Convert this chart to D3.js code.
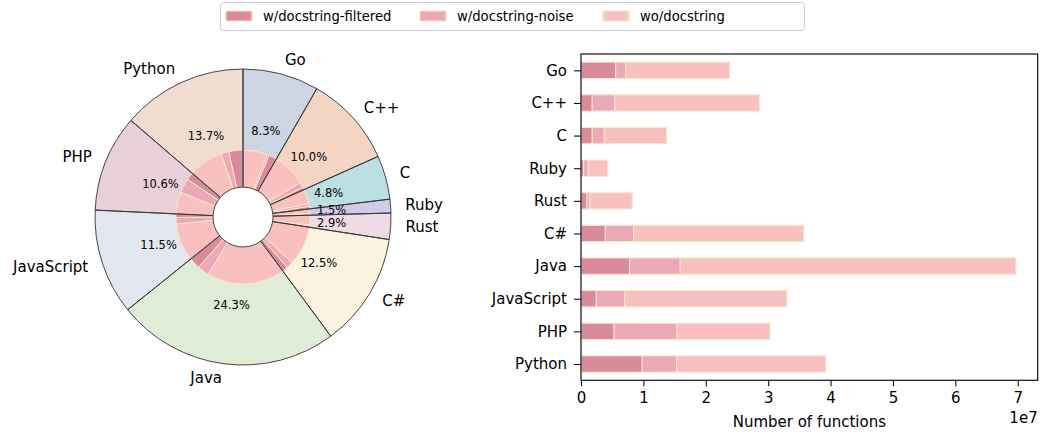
<!DOCTYPE html>
<meta charset="utf-8">
<script src="https://d3js.org/d3.v7.min.js"></script>
<style>
  body { margin: 0; background: #fff; }
  text { font-family: "DejaVu Sans", sans-serif; fill: #000; }
</style>
<body>
<div id="chart"></div>
<script>
// languages, in the order they are plotted (bottom bar first, pie counter-clockwise from top)
var languages = ["Python", "PHP", "JavaScript", "Java", "C#", "Rust", "Ruby", "C", "C++", "Go"];
// counts in millions of functions
var filtered = [9.8, 5.3, 2.45, 7.8, 3.9, 0.96, 0.43, 1.8, 1.8, 5.56];
var noise    = [5.5, 10.1, 4.55, 8.1, 4.55, 0.49, 0.74, 1.93, 3.6, 1.6];
var noDoc    = [23.9, 14.9, 26.0, 53.8, 27.25, 6.75, 3.13, 9.97, 23.2, 16.64];
var seriesNames = ["w/docstring-filtered", "w/docstring-noise", "wo/docstring"];
var xTicks = [0, 1, 2, 3, 4, 5, 6, 7];

var outerColors = ["#f1dcd0", "#e8cfd8", "#e2e6ee", "#dfedd7", "#fbf2e0",
                   "#f0dae3", "#d0cbe6", "#bcdfe3", "#f4d5c4", "#cdd4e2"];
var seriesColors = ["#d98a9b", "#eba9b6", "#f9c0c0"];
var edgeColor = "#fde5cc";

var width = 1041, height = 434;
var svg = d3.select("#chart").append("svg")
  .attr("width", width).attr("height", height);

var totals = languages.map(function (d, i) { return (filtered[i] + noise[i] + noDoc[i]) * 1e6; });
var grand = d3.sum(totals);

// ---------- pie ----------
var cx = 243, cy = 217, R = 148, rInner = 67, rHole = 30;
var pieG = svg.append("g").attr("transform", "translate(" + cx + "," + cy + ")");

var pie = d3.pie().sort(null).value(function (d) { return d; })
  .startAngle(0).endAngle(-2 * Math.PI);

var outerArcs = pie(totals);
var outerArc = d3.arc().innerRadius(rHole).outerRadius(R);

pieG.selectAll("path.outerFill")
  .data(outerArcs).enter().append("path")
  .attr("class", "outerFill")
  .attr("d", outerArc)
  .attr("fill", function (d, i) { return outerColors[i]; });

// inner ring: three parts per language
var innerVals = [];
var innerCols = [];
languages.forEach(function (l, i) {
  [filtered[i], noise[i], noDoc[i]].forEach(function (v, j) {
    innerVals.push(v * 1e6);
    innerCols.push(seriesColors[j]);
  });
});
var innerArc = d3.arc().innerRadius(rHole).outerRadius(rInner);
pieG.selectAll("path.inner")
  .data(pie(innerVals)).enter().append("path")
  .attr("class", "inner")
  .attr("d", innerArc)
  .attr("fill", function (d, i) { return innerCols[i]; })
  .attr("stroke", edgeColor)
  .attr("stroke-width", 1);

// wedge outlines on top
pieG.selectAll("path.outerEdge")
  .data(outerArcs).enter().append("path")
  .attr("class", "outerEdge")
  .attr("d", outerArc)
  .attr("fill", "none")
  .attr("stroke", "#333")
  .attr("stroke-width", 0.9);

function mid(d) { return (d.startAngle + d.endAngle) / 2; }

pieG.selectAll("text.pct")
  .data(outerArcs).enter().append("text")
  .attr("class", "pct")
  .attr("x", function (d) { return Math.sin(mid(d)) * R * 0.6; })
  .attr("y", function (d) { return -Math.cos(mid(d)) * R * 0.6; })
  .attr("text-anchor", "middle")
  .attr("dominant-baseline", "central")
  .style("font-size", "11.5px")
  .text(function (d) { return (d.value / grand * 100).toFixed(1) + "%"; });

pieG.selectAll("text.lab")
  .data(outerArcs).enter().append("text")
  .attr("class", "lab")
  .attr("x", function (d) { return Math.sin(mid(d)) * R * 1.1; })
  .attr("y", function (d) { return -Math.cos(mid(d)) * R * 1.1; })
  .attr("text-anchor", function (d) { return Math.sin(mid(d)) < 0 ? "end" : "start"; })
  .attr("dominant-baseline", "central")
  .style("font-size", "15px")
  .text(function (d, i) { return languages[i]; });

// ---------- stacked bars ----------
var plotLeft = 581, plotRight = 1037.7, plotTop = 54, plotBottom = 380.3;
var x = d3.scaleLinear().domain([0, 7.32e7]).range([plotLeft, plotRight]);
var y = d3.scaleLinear().domain([-0.5, 9.5]).range([plotBottom, plotTop]);
var barH = (y(0) - y(0.5));

var rows = languages.map(function (l, i) {
  return { lang: l, idx: i, f: filtered[i] * 1e6, n: noise[i] * 1e6, w: noDoc[i] * 1e6 };
});
var stacked = d3.stack().keys(["f", "n", "w"])(rows);

var barG = svg.append("g");
barG.selectAll("g")
  .data(stacked).enter().append("g")
  .attr("fill", function (d, i) { return seriesColors[i]; })
  .selectAll("rect")
  .data(function (d) { return d; })
  .enter().append("rect")
  .attr("x", function (d) { return x(d[0]); })
  .attr("y", function (d) { return y(d.data.idx) - barH / 2; })
  .attr("width", function (d) { return x(d[1]) - x(d[0]); })
  .attr("height", barH)
  .attr("stroke", edgeColor)
  .attr("stroke-width", 1);

// frame
svg.append("rect")
  .attr("x", plotLeft).attr("y", plotTop)
  .attr("width", plotRight - plotLeft).attr("height", plotBottom - plotTop)
  .attr("fill", "none").attr("stroke", "#111").attr("stroke-width", 1.2);

// x axis
var xAxis = svg.append("g")
  .attr("transform", "translate(0," + plotBottom + ")")
  .call(d3.axisBottom(x).tickValues(xTicks.map(function (t) { return t * 1e7; }))
    .tickFormat(function (v) { return d3.format("d")(v / 1e7); })
    .tickSize(6).tickPadding(6));
xAxis.select(".domain").remove();
xAxis.selectAll("text").style("font-size", "15px").style("font-family", "DejaVu Sans");
xAxis.selectAll("line").attr("stroke", "#111").attr("stroke-width", 1.1);

svg.append("text")
  .attr("x", plotRight).attr("y", 418)
  .attr("text-anchor", "end")
  .attr("dominant-baseline", "central")
  .style("font-size", "15px")
  .text("1e7");

svg.append("text")
  .attr("x", (plotLeft + plotRight) / 2).attr("y", 422)
  .attr("text-anchor", "middle")
  .attr("dominant-baseline", "central")
  .style("font-size", "15px")
  .text("Number of functions");

// y axis
var yAxis = svg.append("g")
  .attr("transform", "translate(" + plotLeft + ",0)")
  .call(d3.axisLeft(y).tickValues(d3.range(languages.length))
    .tickFormat(function (i) { return languages[i]; })
    .tickSize(7).tickPadding(7));
yAxis.select(".domain").remove();
yAxis.selectAll("text").style("font-size", "15px").style("font-family", "DejaVu Sans");
yAxis.selectAll("line").attr("stroke", "#111").attr("stroke-width", 1.1);

// ---------- legend ----------
var legend = svg.append("g");
legend.append("rect")
  .attr("x", 220.5).attr("y", 2.5).attr("width", 584).attr("height", 28)
  .attr("rx", 3)
  .attr("fill", "#fff").attr("fill-opacity", 0.8)
  .attr("stroke", "#ccc");
var legendX = [226, 420, 603];
seriesNames.forEach(function (s, i) {
  legend.append("rect")
    .attr("x", legendX[i]).attr("y", 11).attr("width", 26).attr("height", 10)
    .attr("fill", seriesColors[i]).attr("stroke", edgeColor);
  legend.append("text")
    .attr("x", legendX[i] + 37).attr("y", 16)
    .attr("dominant-baseline", "central")
    .style("font-size", "13.2px")
    .text(s);
});
</script>
</body>
